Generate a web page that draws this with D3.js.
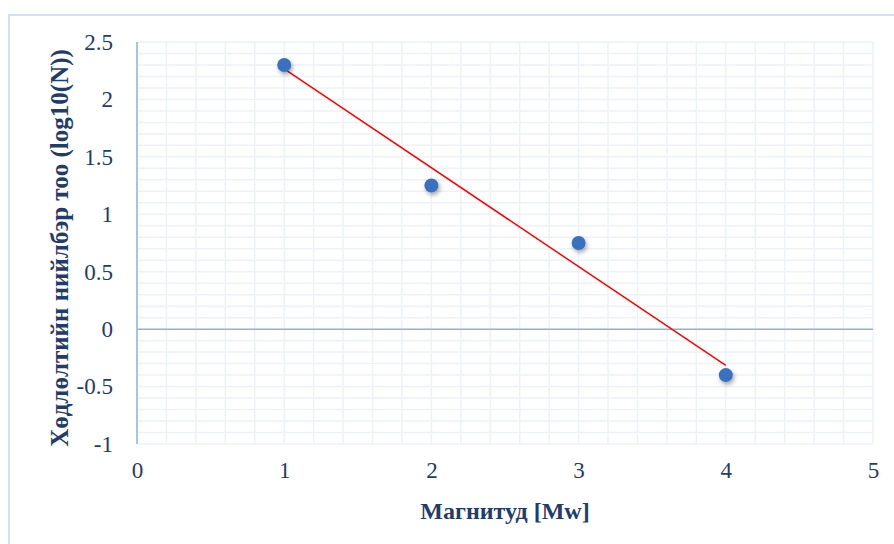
<!DOCTYPE html>
<html><head><meta charset="utf-8">
<script src="https://cdn.jsdelivr.net/npm/d3@7"></script>
<style>
html,body{margin:0;padding:0;background:#fff;}
svg{display:block;}
text{font-family:"Liberation Serif","Times New Roman",serif;fill:#1f3c6b;}
</style></head><body>
<svg id="c" width="894" height="544"></svg>
<script>
const magnitudes = [1, 2, 3, 4];
const logN = [2.3, 1.25, 0.75, -0.4];
const xTicks = [0, 1, 2, 3, 4, 5];
const yTicks = [-1, -0.5, 0, 0.5, 1, 1.5, 2, 2.5];
const xTitle = "Магнитуд [Mw]";
const yTitle = "Хөдлөлтийн нийлбэр тоо (log10(N))";

const svg = d3.select("#c");
const W = 894, H = 544;
const m = {left: 137, right: 873, top: 42, bottom: 444};

// outer frame
svg.append("rect").attr("x", 9).attr("y", 15).attr("width", W).attr("height", H)
  .attr("fill", "none").attr("stroke", "#d3e1f2").attr("stroke-width", 2);

const x = d3.scaleLinear().domain([0, 5]).range([m.left, m.right]);
const y = d3.scaleLinear().domain([-1, 2.5]).range([m.bottom, m.top]);

const defs = svg.append("defs");
const f = defs.append("filter").attr("id", "sh").attr("x", "-50%").attr("y", "-50%").attr("width", "200%").attr("height", "200%");
f.append("feDropShadow").attr("dx", 1.5).attr("dy", 2.5).attr("stdDeviation", 2).attr("flood-color", "#000").attr("flood-opacity", 0.35);

// gridlines
const grid = svg.append("g");
const xMinor = d3.range(0, 5.0001, 0.2);
const yMinor = d3.range(-1, 2.5001, 0.1);
grid.selectAll("line.v").data(xMinor).join("line")
  .attr("x1", d => x(d)).attr("x2", d => x(d))
  .attr("y1", m.top).attr("y2", m.bottom)
  .attr("stroke", "#edf2f9").attr("stroke-width", 1.5);
grid.selectAll("line.h").data(yMinor).join("line")
  .attr("x1", m.left).attr("x2", m.right)
  .attr("y1", d => y(d)).attr("y2", d => y(d))
  .attr("stroke", "#edf2f9").attr("stroke-width", 1.5);

// axes lines
svg.append("line").attr("x1", x(0)).attr("x2", x(0)).attr("y1", m.top).attr("y2", m.bottom)
  .attr("stroke", "#8db3e2").attr("stroke-width", 1.5);
svg.append("line").attr("x1", m.left).attr("x2", m.right).attr("y1", y(0)).attr("y2", y(0))
  .attr("stroke", "#8db3e2").attr("stroke-width", 1.5);

// tick labels via axes
const xAxis = svg.append("g").attr("transform", `translate(0,${m.bottom})`)
  .call(d3.axisBottom(x).tickValues(xTicks).tickFormat(d3.format("d")).tickSize(0).tickPadding(18));
xAxis.select(".domain").remove();
xAxis.selectAll("text").style("font-size", "23px").attr("fill", "#1f3c6b");

const yAxis = svg.append("g").attr("transform", `translate(${m.left},0)`)
  .call(d3.axisLeft(y).tickValues(yTicks).tickFormat(d => String(d)).tickSize(0).tickPadding(24));
yAxis.select(".domain").remove();
yAxis.selectAll("text").style("font-size", "23px").attr("fill", "#1f3c6b");

// trendline (least squares fit of the data)
const mx = d3.mean(magnitudes), my = d3.mean(logN);
const sxy = d3.sum(magnitudes, (v, i) => (v - mx) * (logN[i] - my));
const sxx = d3.sum(magnitudes, v => (v - mx) ** 2);
const slope = sxy / sxx, icpt = my - slope * mx;
const x0 = d3.min(magnitudes), x1 = d3.max(magnitudes);
svg.append("line")
  .attr("x1", x(x0)).attr("y1", y(icpt + slope * x0))
  .attr("x2", x(x1)).attr("y2", y(icpt + slope * x1))
  .attr("stroke", "#ff0000").attr("stroke-width", 1.5);

// points
svg.selectAll("circle.p").data(magnitudes).join("circle")
  .attr("cx", d => x(d)).attr("cy", (d, i) => y(logN[i]))
  .attr("r", 7).attr("fill", "#3b70bf").attr("filter", "url(#sh)");

// titles
svg.append("text").attr("x", (m.left + m.right) / 2).attr("y", 519)
  .attr("text-anchor", "middle").style("font-size", "24px").style("font-weight", "bold")
  .text(xTitle);
svg.append("text").attr("transform", `translate(68,${(m.top + m.bottom) / 2 + 5}) rotate(-90)`)
  .attr("text-anchor", "middle").style("font-size", "25px").style("font-weight", "bold")
  .text(yTitle);
</script>
</body></html>
